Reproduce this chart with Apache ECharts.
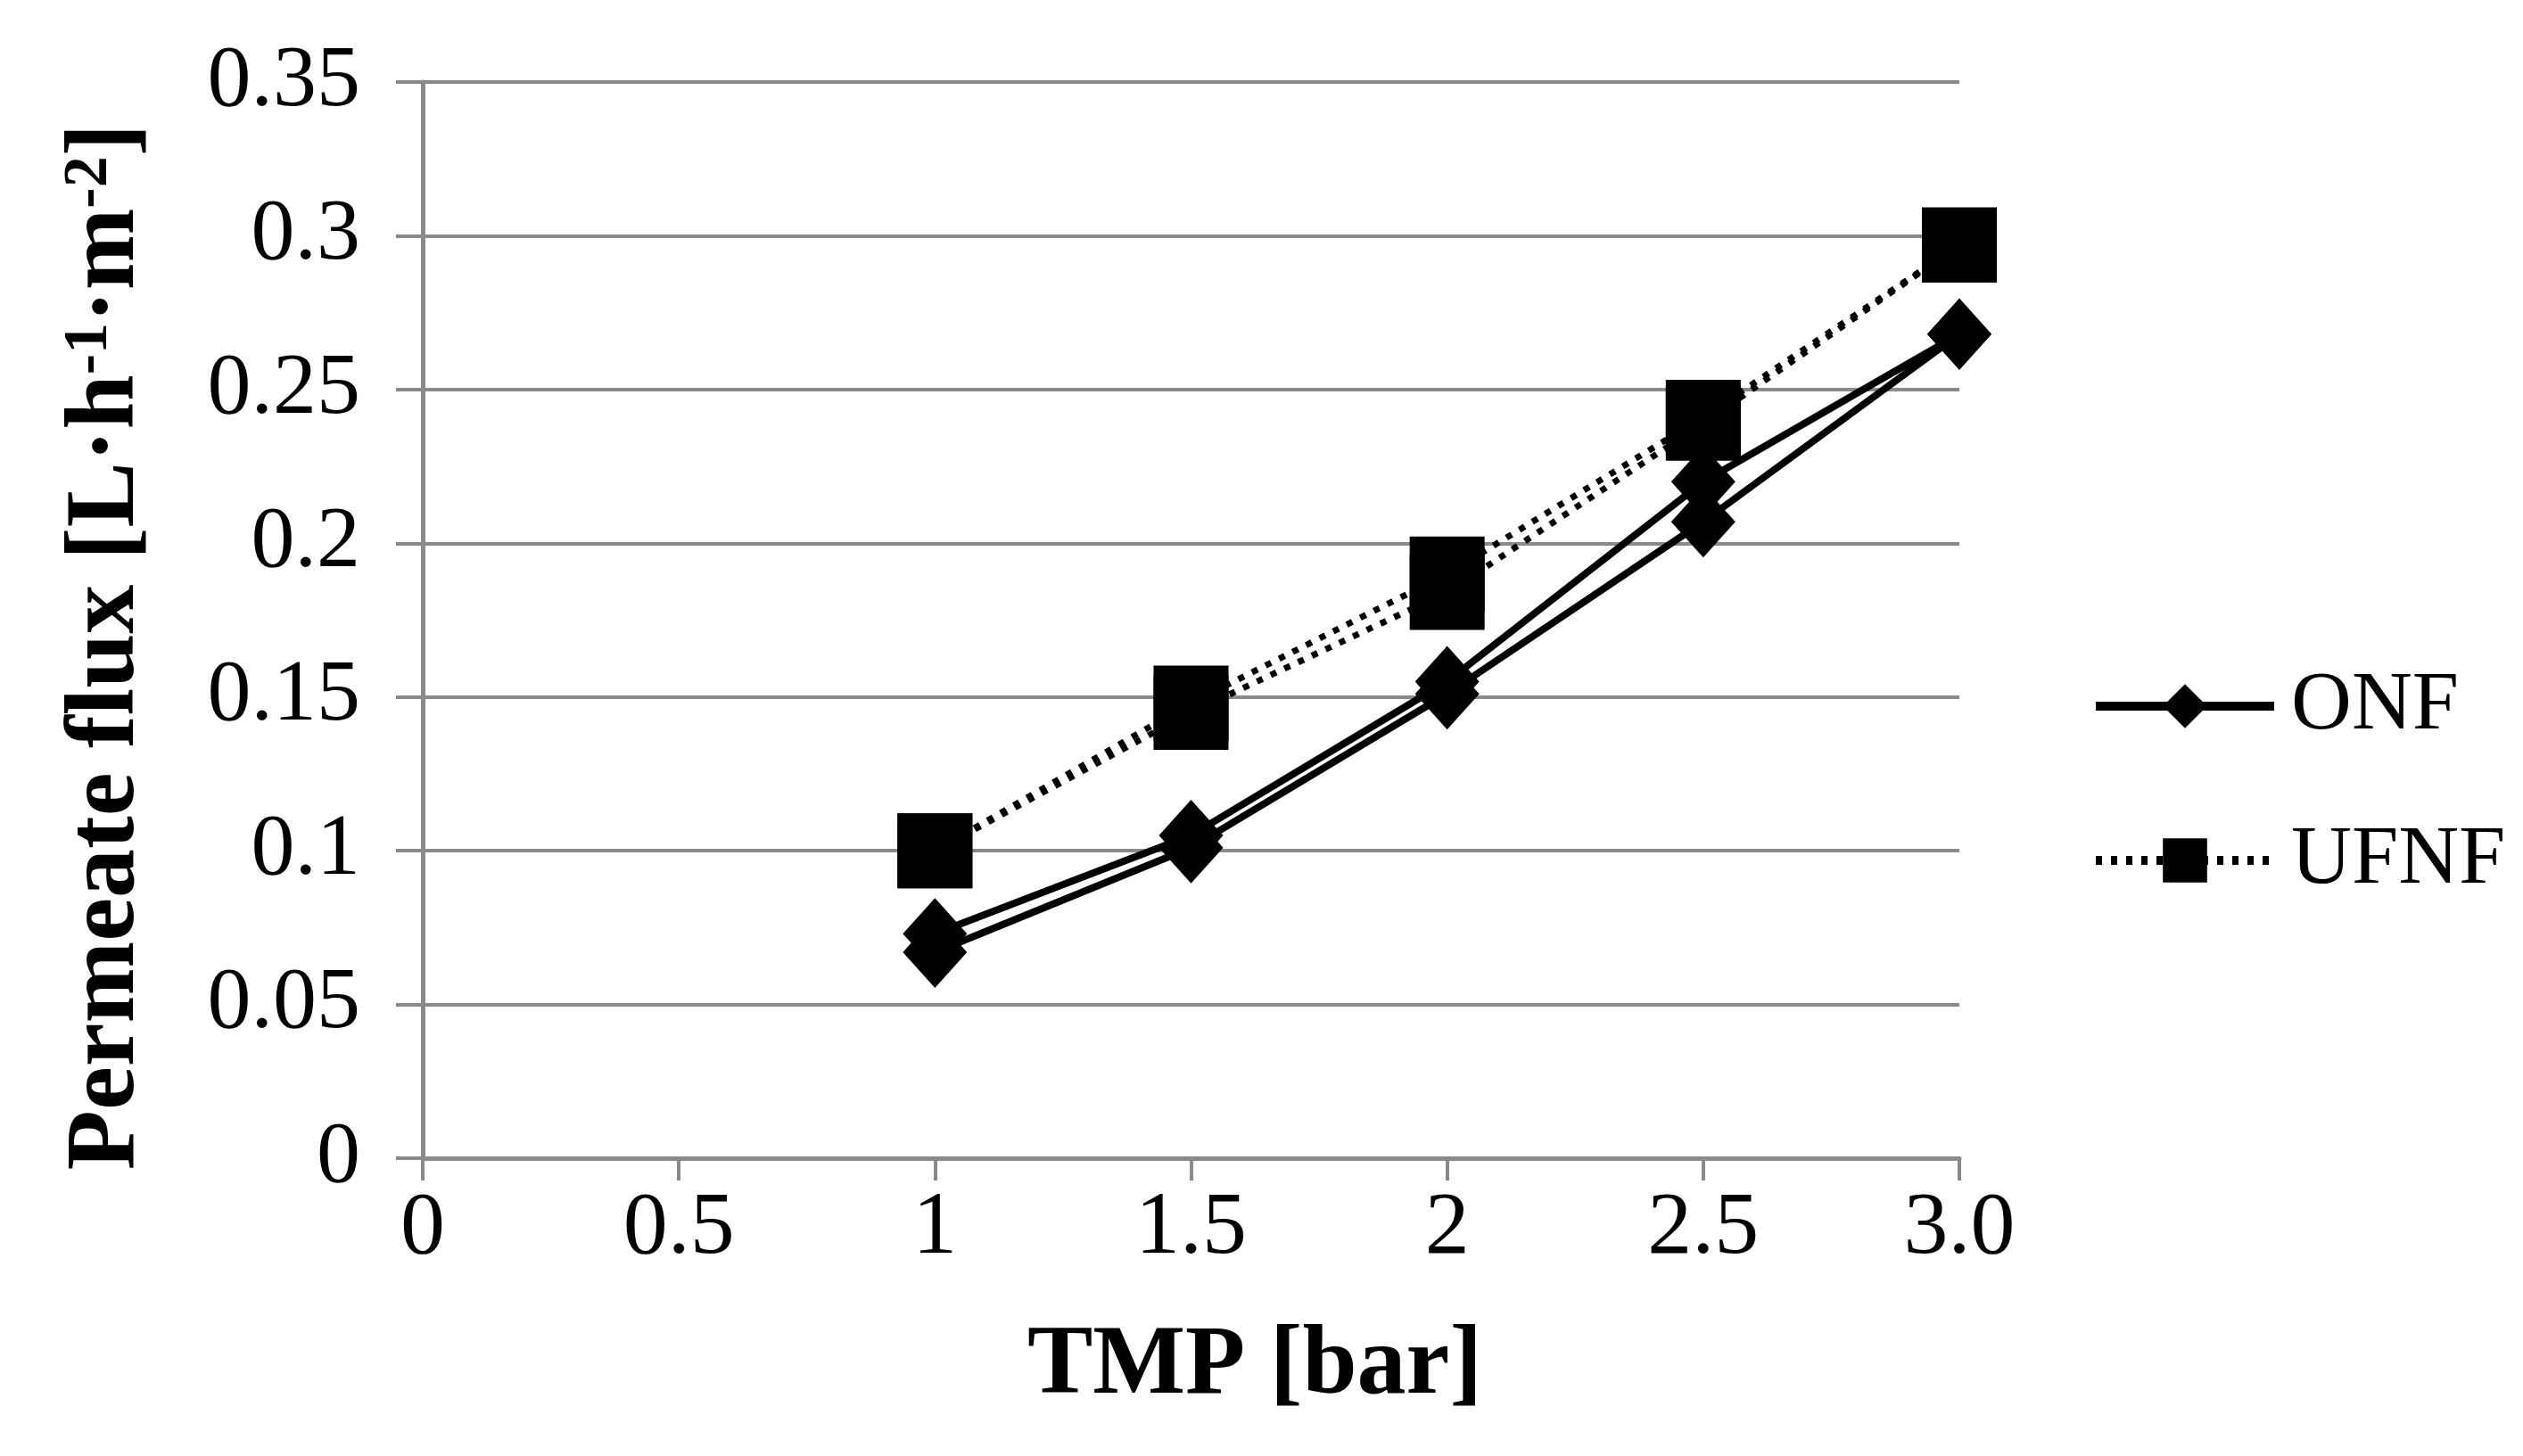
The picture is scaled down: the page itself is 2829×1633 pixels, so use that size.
<!DOCTYPE html>
<html>
<head>
<meta charset="utf-8">
<script src="https://cdn.jsdelivr.net/npm/echarts@6/dist/echarts.min.js"></script>
<style>
html,body{margin:0;padding:0;background:#fff;}
#chart{width:2829px;height:1633px;}
</style>
</head>
<body>
<div id="chart"></div>
<script>
// TMP values (bar)
var tmp = [1, 1.5, 2, 2.5, 3];
// Permeate flux, two runs per process
var onfRunA = [0.067, 0.101, 0.151, 0.207, 0.268];
var onfRunB = [0.073, 0.105, 0.155, 0.220, 0.268];
var ufnfRunA = [0.100, 0.148, 0.190, 0.241, 0.297];
var ufnfRunB = [0.100, 0.145, 0.184, 0.239, 0.297];
// Tick labels
var xTickLabels = ['0', '0.5', '1', '1.5', '2', '2.5', '3.0'];
var yTickLabels = ['0', '0.05', '0.1', '0.15', '0.2', '0.25', '0.3', '0.35'];

function pairs(xs, ys) { return xs.map(function (x, i) { return [x, ys[i]]; }); }

var FONT = "'Liberation Serif','Times New Roman',serif";
var GRAY = '#8a8a8a';

function onfSeries(vals) {
  return {
    name: 'ONF', type: 'line', data: pairs(tmp, vals),
    symbol: 'diamond', symbolSize: [72, 80],
    itemStyle: { color: '#000' },
    lineStyle: { color: '#000', width: 8, type: 'solid' },
    z: 3
  };
}
function ufnfSeries(vals) {
  return {
    name: 'UFNF', type: 'line', data: pairs(tmp, vals),
    symbol: 'rect', symbolSize: [84, 84],
    itemStyle: { color: '#000' },
    lineStyle: { color: '#000', width: 7, type: [7, 10] },
    z: 2
  };
}

var chart = echarts.init(document.getElementById('chart'));
chart.setOption({
  animation: false,
  backgroundColor: '#fff',
  grid: { left: 474, right: 632, top: 92, bottom: 334, containLabel: false },
  legend: {
    orient: 'vertical',
    left: 2340, top: 740,
    itemWidth: 200, itemHeight: 62, itemGap: 79,
    data: ['ONF', 'UFNF'],
    textStyle: { fontFamily: FONT, fontSize: 94, color: '#000', padding: [0, 0, 0, 14] },
    lineStyle: { width: 10 }
  },
  xAxis: {
    type: 'value', min: 0, max: 3, interval: 0.5,
    name: 'TMP [bar]', nameLocation: 'middle', nameGap: 180,
    nameTextStyle: { fontFamily: FONT, fontSize: 110, fontWeight: 'bold', color: '#000', padding: [0, 0, 0, 143] },
    axisLine: { show: true, lineStyle: { color: GRAY, width: 5 } },
    axisTick: { show: true, length: 25, lineStyle: { color: GRAY, width: 4 } },
    axisLabel: {
      margin: 30, fontFamily: FONT, fontSize: 100, color: '#000',
      formatter: function (v) { return xTickLabels[Math.round(v / 0.5)]; }
    },
    splitLine: { show: false }
  },
  yAxis: {
    type: 'value', min: 0, max: 0.35, interval: 0.05,
    name: 'Permeate flux [L·h{sup|-1}·m{sup|-2}]',
    nameLocation: 'middle', nameRotate: 90, nameGap: 298,
    nameTextStyle: {
      fontFamily: FONT, fontSize: 110, fontWeight: 'bold', color: '#000', padding: [0, 60, 0, 0],
      rich: { sup: { fontFamily: FONT, fontSize: 70, fontWeight: 'bold', color: '#000', verticalAlign: 'top', lineHeight: 110, padding: [0, 0, 60, 0] } }
    },
    axisLine: { show: true, lineStyle: { color: GRAY, width: 5 } },
    axisTick: { show: true, length: 30, lineStyle: { color: GRAY, width: 4 } },
    axisLabel: {
      margin: 70, fontFamily: FONT, fontSize: 98, color: '#000',
      formatter: function (v) { return yTickLabels[Math.round(v / 0.05)]; }
    },
    splitLine: { show: true, lineStyle: { color: GRAY, width: 4 } }
  },
  series: [onfSeries(onfRunA), onfSeries(onfRunB), ufnfSeries(ufnfRunA), ufnfSeries(ufnfRunB)]
});
</script>
</body>
</html>
